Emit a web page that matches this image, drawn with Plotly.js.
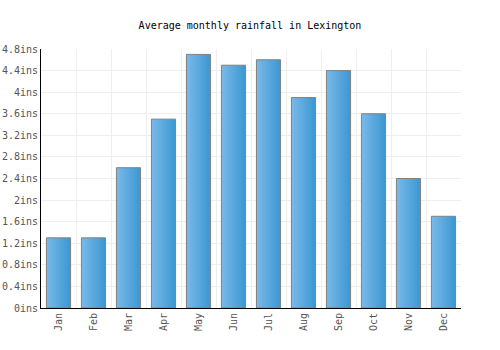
<!DOCTYPE html>
<html><head><meta charset="utf-8">
<script src="https://cdn.plot.ly/plotly-3.0.1.min.js"></script>
<style>body{margin:0;background:#fff}#chart{width:500px;height:350px}</style>
</head><body><div id="chart"></div>
<script>
const months = ["Jan","Feb","Mar","Apr","May","Jun","Jul","Aug","Sep","Oct","Nov","Dec"];
const rainfall = [1.3,1.3,2.6,3.5,4.7,4.5,4.6,3.9,4.4,3.6,2.4,1.7];
const yTicks = [0,0.4,0.8,1.2,1.6,2,2.4,2.8,3.2,3.6,4,4.4,4.8];
const yTickText = yTicks.map(v => v + "ins");
const font = "'DejaVu Sans Mono', monospace";

Plotly.newPlot("chart", [{
  type: "bar", x: months, y: rainfall,
  marker: {color: "#5aaae0", line: {color: "#808080", width: 1}},
  hoverinfo: "none"
}], {
  width: 500, height: 350,
  margin: {l: 41, r: 39, t: 49, b: 42},
  paper_bgcolor: "#fff", plot_bgcolor: "#fff",
  bargap: 0.31,
  title: {text: "Average monthly rainfall in Lexington", font: {family: font, size: 10, color: "#000"}, x: 0.5, y: 0.928, yanchor: "middle"},
  showlegend: false,
  xaxis: {
    type: "category", tickson: "boundaries", showgrid: true, gridcolor: "#eeeeee",
    showline: true, linecolor: "#000", linewidth: 1, ticks: "",
    tickangle: -90, tickfont: {family: font, size: 10, color: "#555"}, fixedrange: true
  },
  yaxis: {
    range: [0, 4.8], tickvals: yTicks, ticktext: yTickText,
    showgrid: true, gridcolor: "#eeeeee", zeroline: false,
    showline: true, linecolor: "#000", linewidth: 1, ticks: "",
    tickfont: {family: font, size: 10, color: "#555"}, fixedrange: true
  }
}, {staticPlot: true}).then(function(gd){
  const svg = gd.querySelector("svg.main-svg");
  const ns = "http://www.w3.org/2000/svg";
  let defs = svg.querySelector("defs");
  const lg = document.createElementNS(ns, "linearGradient");
  lg.setAttribute("id", "barGrad");
  lg.setAttribute("x1", "0"); lg.setAttribute("x2", "1"); lg.setAttribute("y1", "0"); lg.setAttribute("y2", "0");
  [["0", "#7ab9ea"], ["1", "#3a98d1"]].forEach(function(s){
    const st = document.createElementNS(ns, "stop");
    st.setAttribute("offset", s[0]); st.setAttribute("stop-color", s[1]);
    lg.appendChild(st);
  });
  defs.appendChild(lg);
  gd.querySelectorAll(".bars .point path").forEach(function(p){
    p.style.fill = "url(#barGrad)";
  });
});
</script></body></html>
